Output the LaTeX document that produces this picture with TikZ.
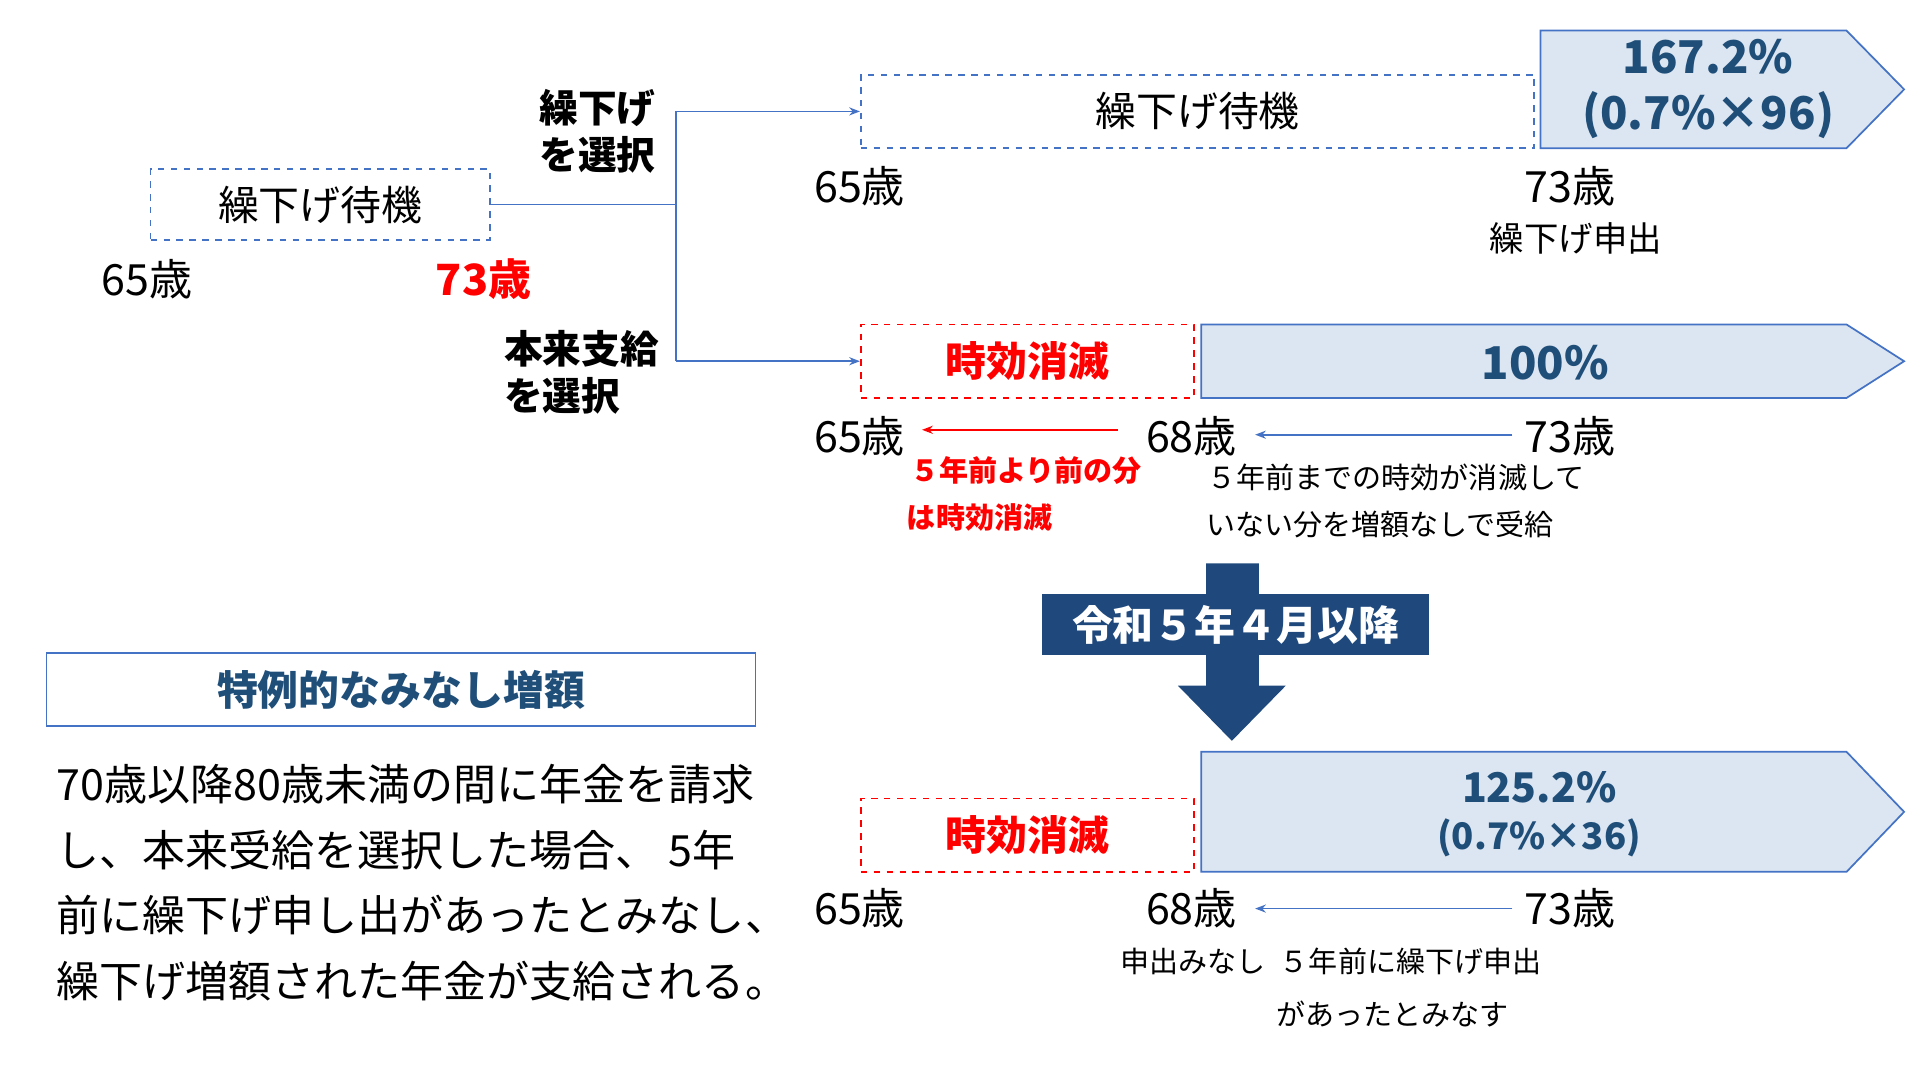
\documentclass[tikz,border=0pt]{standalone}
\usepackage{fontspec}
\setmainfont{Noto Sans CJK JP}
\usetikzlibrary{arrows.meta}
\definecolor{lineblue}{RGB}{68,114,196}
\definecolor{fillblue}{RGB}{220,230,242}
\definecolor{darkblue}{RGB}{31,78,121}
\definecolor{navy}{RGB}{31,73,125}
\definecolor{redtxt}{RGB}{255,0,0}
\tikzset{
    age/.style={font=\fontsize{20}{24}\selectfont},
    note/.style={font=\fontsize{13.5}{16}\selectfont, align=left},
    waitbox/.style={draw=lineblue, dashed, thick, font=\fontsize{19}{22}\selectfont},
    lostbox/.style={draw=redtxt, dashed, thick, text=redtxt, font=\bfseries\fontsize{19}{22}\selectfont},
    paytext/.style={text=darkblue, font=\bfseries\fontsize{21}{26}\selectfont, align=center},
    conn/.style={lineblue, thick},
    band/.style={draw=lineblue, thick, fill=fillblue}
}
\begin{document}
\begin{tikzpicture}[x=0.02cm, y=-0.02cm]
    \useasboundingbox (0,0) rectangle (1568,882);

    % left: waiting
    \node[waitbox, minimum width=277*0.02cm, minimum height=58*0.02cm] (wait) at (261.5,167) {繰下げ待機};
    \node[age] (a65) at (120,228) {65歳};
    \node[age, text=redtxt, font=\bfseries\fontsize{20}{24}\selectfont] (a73) at (395,228) {73歳};
    \coordinate (fork) at (552,167);
    \coordinate (forkup) at (552,91);
    \coordinate (forkdn) at (552,295);
    \node[font=\bfseries\fontsize{18}{22}\selectfont, align=left] (chooseup) at (488,107) {繰下げ\\を選択};
    \node[font=\bfseries\fontsize{18}{22}\selectfont, align=left] (choosedn) at (475,304) {本来支給\\を選択};

    % top row: deferral
    \node[waitbox, minimum width=550*0.02cm, minimum height=60*0.02cm] (wait2) at (978,91) {繰下げ待機};
    \draw[band] (1258,25) -- (1508,25) -- (1555,73) -- (1508,121) -- (1258,121) -- cycle;
    \node[paytext] (pay1) at (1395,73) {167.2\%\\(0.7\%×96)};
    \node[age] (b65) at (702,152) {65歳};
    \node[age] (b73) at (1282,152) {73歳};
    \node[age, font=\fontsize{16}{20}\selectfont] (bclaim) at (1287,195) {繰下げ申出};

    % middle row: normal
    \node[lostbox, minimum width=272*0.02cm, minimum height=60*0.02cm] (lost1) at (839,295) {時効消滅};
    \draw[band] (981,265) -- (1508,265) -- (1555,295) -- (1508,325) -- (981,325) -- cycle;
    \node[paytext] (pay2) at (1262,296) {100\%};
    \node[age] (c65) at (702,356) {65歳};
    \node[age] (c68) at (973,356) {68歳};
    \node[age] (c73) at (1282,356) {73歳};
    \node[note, text=redtxt, font=\bfseries\fontsize{13.5}{16}\selectfont] (cred1) at (838,384) {５年前より前の分};
    \node[note, text=redtxt, font=\bfseries\fontsize{13.5}{16}\selectfont] (cred2) at (800,423) {は時効消滅};
    \node[note] (cnote1) at (1140,390) {５年前までの時効が消滅して};
    \node[note] (cnote2) at (1127,428) {いない分を増額なしで受給};

    % big arrow
    \fill[navy] (985,460) -- (1028,460) -- (1028,560) -- (1050,560) -- (1006,605) -- (962,560) -- (985,560) -- cycle;
    \node[fill=navy, text=white, font=\bfseries\fontsize{19}{22}\selectfont, minimum width=316*0.02cm, minimum height=50*0.02cm] (since) at (1009,510) {令和５年４月以降};

    % bottom row: deemed deferral
    \node[lostbox, minimum width=272*0.02cm, minimum height=60*0.02cm] (lost2) at (839,682) {時効消滅};
    \draw[band] (981,614) -- (1508,614) -- (1555,663) -- (1508,712) -- (981,712) -- cycle;
    \node[paytext, font=\bfseries\fontsize{19}{22}\selectfont] (pay3) at (1257,665) {125.2\%\\{\fontsize{17}{20}\selectfont(0.7\%×36)}};
    \node[age] (d65) at (702,742) {65歳};
    \node[age] (d68) at (973,742) {68歳};
    \node[age] (d73) at (1282,742) {73歳};
    \node[note] (dnote0) at (974,785) {申出みなし};
    \node[note] (dnote1) at (1152,785) {５年前に繰下げ申出};
    \node[note] (dnote2) at (1137,828) {があったとみなす};

    % special deemed increase
    \node[draw=lineblue, thick, text=darkblue, font=\bfseries\fontsize{19}{22}\selectfont, minimum width=579*0.02cm, minimum height=60*0.02cm] (special) at (327.5,563) {特例的なみなし増額};
    \node[anchor=north west, align=left, font=\fontsize{20}{30.5}\selectfont] (desc) at (40,618) {70歳以降80歳未満の間に年金を請求\\し、本来受給を選択した場合、 5年\\前に繰下げ申し出があったとみなし、\\繰下げ増額された年金が支給される。};

    % connectors
    \coordinate (redfrom) at (913,351);
    \coordinate (redto) at (753,351);
    \coordinate (midfrom) at (1235,355);
    \coordinate (midto) at (1025,355);
    \coordinate (lowfrom) at (1235,742);
    \coordinate (lowto) at (1025,742);
    \draw[conn] (wait.east) -- (fork);
    \draw[conn] (forkup) -- (forkdn);
    \draw[conn, -{Stealth[length=5pt]}] (forkup) -- (wait2.west);
    \draw[conn, -{Stealth[length=5pt]}] (forkdn) -- (lost1.west);
    \draw[redtxt, thick, -{Stealth[length=5pt]}] (redfrom) -- (redto);
    \draw[conn, -{Stealth[length=5pt]}] (midfrom) -- (midto);
    \draw[conn, -{Stealth[length=5pt]}] (lowfrom) -- (lowto);
\end{tikzpicture}
\end{document}
